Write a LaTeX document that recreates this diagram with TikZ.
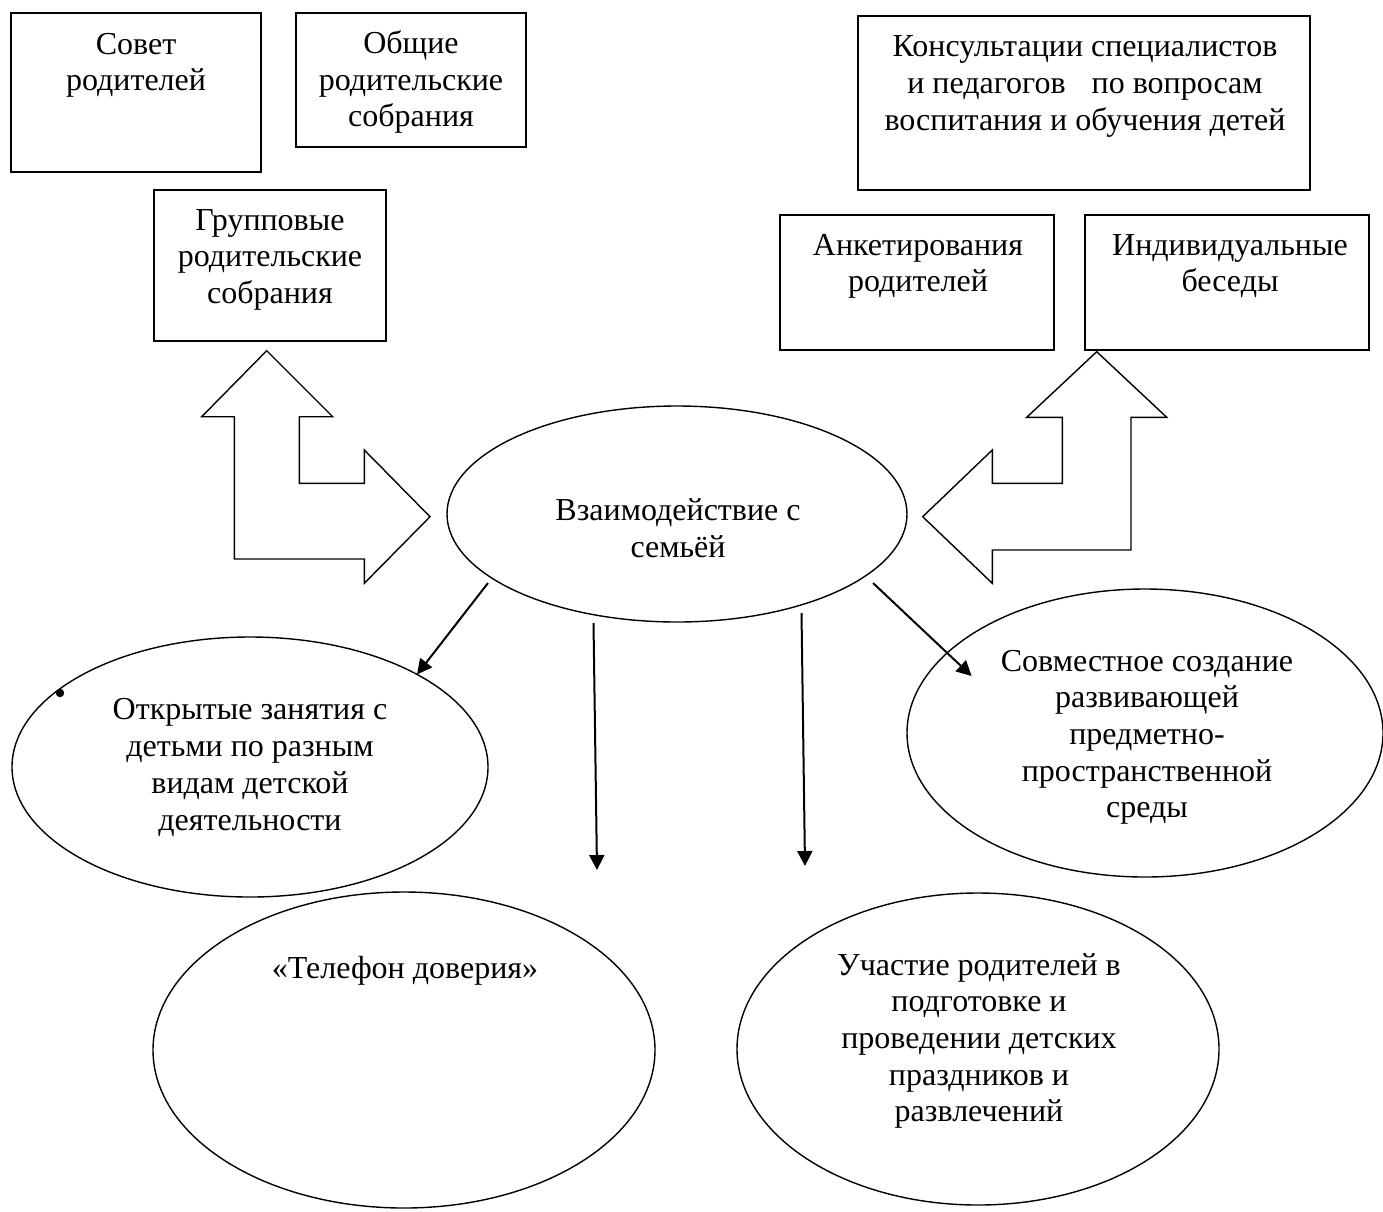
\documentclass[tikz,border=0pt]{standalone}
\usepackage{fontspec}
\setmainfont{Liberation Serif}
\usetikzlibrary{shapes.geometric,arrows.meta,calc}
\begin{document}
\begin{tikzpicture}[x=1pt,y=-1pt,
  box/.style={draw, line width=1.6pt, inner sep=0pt, outer sep=0pt, anchor=north west},
  oval/.style={draw, ellipse, line width=1.4pt, inner sep=0pt, outer sep=0pt},
  lbl/.style={align=center, font=\fontsize{32}{36.7}\selectfont, inner sep=0pt, anchor=base},
  conn/.style={line width=2pt, -{Triangle[length=15pt,width=15pt]}},
  dblarrow/.style={draw, line width=1.4pt, line join=miter}]
\useasboundingbox (0,0) rectangle (1383,1211);

% boxes
\node[box, minimum width=250pt, minimum height=159pt] (sovet) at (11,13) {};
\node[box, minimum width=230pt, minimum height=134pt] (obshchie) at (296,13) {};
\node[box, minimum width=232pt, minimum height=151pt] (grupp) at (154,190) {};
\node[box, minimum width=452pt, minimum height=174pt] (kons) at (858,16) {};
\node[box, minimum width=274pt, minimum height=135pt] (anket) at (780,215) {};
\node[box, minimum width=284pt, minimum height=135pt] (indiv) at (1085,215) {};

% labels (anchor = baseline of the last line)
\node[lbl] (t-sovet) at (136,90.7) {Совет\\родителей};
\node[lbl] (t-obshchie) at (411,126.7) {Общие\\родительские\\собрания};
\node[lbl] (t-grupp) at (270,303.4) {Групповые\\родительские\\собрания};
\node[lbl] (t-kons) at (1085,130) {Консультации специалистов\\и педагогов\hspace{26pt}по вопросам\\воспитания и обучения детей};
\node[lbl] (t-anket) at (918,291.7) {Анкетирования\\родителей};
\node[lbl] (t-indiv) at (1230,291.7) {Индивидуальные\\беседы};

% ellipses
\node[oval, minimum width=460pt, minimum height=216pt] (center) at (677,514) {};
\node[oval, minimum width=476pt, minimum height=260pt] (otkr) at (250,767) {};
\node[oval, minimum width=476pt, minimum height=288pt] (sovm) at (1145,733) {};
\node[oval, minimum width=502pt, minimum height=316pt] (tel) at (404,1050) {};
\node[oval, minimum width=482pt, minimum height=312pt] (uch) at (978,1049) {};

\node[lbl] (t-center) at (678,557) {Взаимодействие с\\семьёй};
\node[lbl] (t-otkr) at (250,830) {Открытые занятия с\\детьми по разным\\видам детской\\деятельности};
\node[lbl] (t-sovm) at (1147,817.8) {Совместное создание\\развивающей\\предметно-\\пространственной\\среды};
\node[lbl] (t-tel) at (405,978) {«Телефон доверия»};
\node[lbl] (t-uch) at (979,1121.8) {Участие родителей в\\подготовке и\\проведении детских\\праздников и\\развлечений};

% small dot on the ellipse
\fill (60,693) circle (4.2pt);

% double block arrows
\path[dblarrow] (266.7,350.7) -- (332.7,416.7) -- (299.3,416.7) -- (299.3,483.3)
  -- (364.3,483.3) -- (364.3,450) -- (430,516.7) -- (364.3,583.3) -- (364.3,559)
  -- (234.3,559) -- (234.3,416.7) -- (201.7,416.7) -- cycle;
\path[dblarrow] (1096.7,351.7) -- (1166.7,417.3) -- (1131,417.3) -- (1131,550)
  -- (992.3,550) -- (992.3,583.3) -- (922.7,516.7) -- (992.3,450) -- (992.3,483.3)
  -- (1062.3,483.3) -- (1062.3,417.3) -- (1026.7,417.3) -- cycle;

% connectors
\coordinate (a1s) at (488,583);
\coordinate (a2s) at (593.5,623);
\coordinate (a2e) at (597,870);
\coordinate (a3s) at (801.5,613);
\coordinate (a3e) at (805,866);
\coordinate (a4s) at (873,583);
\coordinate (a4e) at (971.6,676);
\draw[conn] (a1s) -- (otkr.29);
\draw[conn] (a2s) -- (a2e);
\draw[conn] (a3s) -- (a3e);
\draw[conn] (a4s) -- (a4e);
\end{tikzpicture}
\end{document}
